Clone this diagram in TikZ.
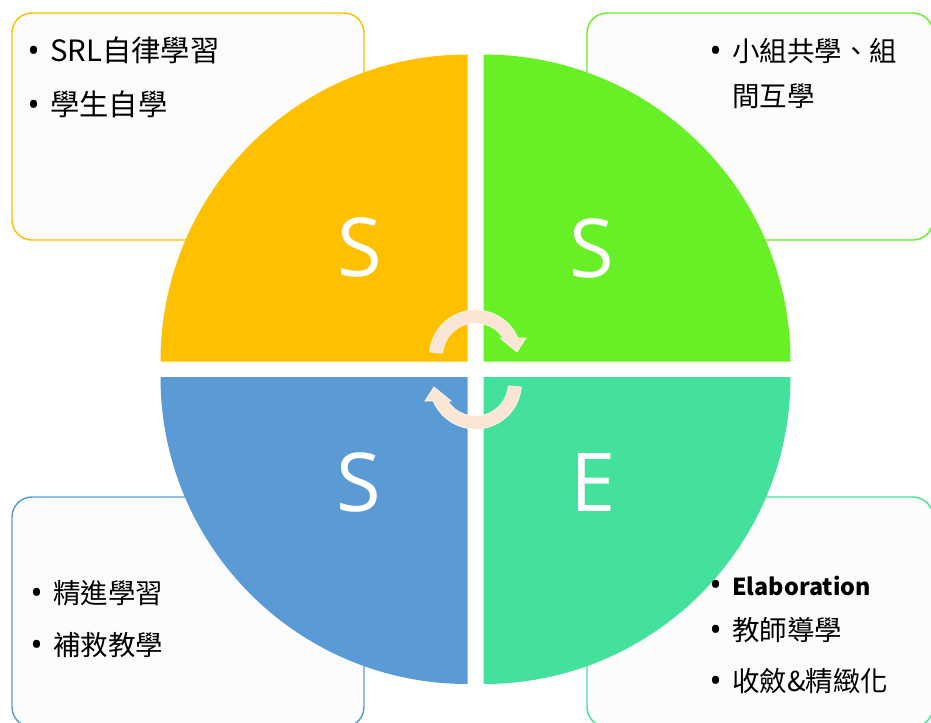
\documentclass[tikz,border=0pt]{standalone}
\usepackage{fontspec}
\setmainfont{Open Sans}
\newfontfamily\cjk{Noto Sans CJK TC}
\newcommand{\itembullet}{\makebox[17.25pt][l]{\raisebox{-1pt}{\fontspec{Open Sans}\fontsize{25}{25}\selectfont •}}}

\tikzset{
  infobox/.style={rounded corners=15pt, line width=1.1pt, fill={rgb, 255:red, 252; green, 252; blue, 252 }},
  bigletter/.style={text=white, inner sep=0pt, font=\fontsize{61}{61}\selectfont},
  itemtext/.style={anchor=base west, inner sep=0pt, align=left, font=\cjk\fontsize{20.6}{33.75}\selectfont},
  itemlarge/.style={itemtext, font=\cjk\fontsize{22}{33.75}\selectfont},
  cyclearrow/.style={fill={rgb, 255:red, 251; green, 229; blue, 212 }, draw={rgb, 255:red, 255; green, 243; blue, 232 }, line width=0.6pt}
}

\begin{document}
\begin{tikzpicture}[x=0.75pt,y=0.75pt,yscale=-1,xscale=1]
\path[use as bounding box] (0,0) rectangle (931,722);
\clip (0,0) rectangle (931,722);

%Shape: Rounded Rect (top left)
\draw [infobox, draw={rgb, 255:red, 255; green, 192; blue, 0 }] (12,13) rectangle (364,240);
%Shape: Rounded Rect (top right)
\draw [infobox, draw={rgb, 255:red, 104; green, 240; blue, 38 }] (587,13) rectangle (933,240);
%Shape: Rounded Rect (bottom left)
\draw [infobox, draw={rgb, 255:red, 91; green, 155; blue, 213 }] (12,497) rectangle (364,727);
%Shape: Rounded Rect (bottom right)
\draw [infobox, draw={rgb, 255:red, 67; green, 225; blue, 155 }] (587,497) rectangle (933,727);

%Shape: Pie (top left)
\fill [color={rgb, 255:red, 255; green, 192; blue, 0 }] (467.5,361.5) -- (160.5,361.5) arc[start angle=180, end angle=270, radius=307] -- cycle;
%Shape: Pie (top right)
\fill [color={rgb, 255:red, 104; green, 240; blue, 38 }] (483.5,361.5) -- (483.5,54.5) arc[start angle=270, end angle=360, radius=307] -- cycle;
%Shape: Pie (bottom left)
\fill [color={rgb, 255:red, 91; green, 155; blue, 213 }] (467.5,377) -- (467.5,684) arc[start angle=90, end angle=180, radius=307] -- cycle;
%Shape: Pie (bottom right)
\fill [color={rgb, 255:red, 67; green, 225; blue, 155 }] (483.5,377) -- (790.5,377) arc[start angle=0, end angle=90, radius=307] -- cycle;

%Curve Arrow (top)
\draw [cyclearrow] (475.5,356) ++(185:46) arc[start angle=185, end angle=337, radius=46] -- (526,338) -- (517,352) -- (500,338) -- (503.2,338) arc[start angle=327, end angle=185, radius=33] -- cycle;
%Curve Arrow (bottom)
\begin{scope}[rotate around={180:(475.5,369.5)}]
\draw [cyclearrow] (475.5,356) ++(185:46) arc[start angle=185, end angle=337, radius=46] -- (526,338) -- (517,352) -- (500,338) -- (503.2,338) arc[start angle=327, end angle=185, radius=33] -- cycle;
\end{scope}

% Text Node
\draw (360,247) node [bigletter] (selfS) {S};
% Text Node
\draw (592,248) node [bigletter] (shareS) {S};
% Text Node
\draw (359,482) node [bigletter] (supportS) {S};
% Text Node
\draw (593,482) node [bigletter] (elabE) {E};

% Text Node
\draw (27,61) node [itemlarge] (srl) {\itembullet SRL自律學習};
% Text Node
\draw (27,115) node [itemlarge] (selfstudy) {\itembullet 學生自學};
% Text Node
\draw (709,106) node [itemtext] (groupstudy) {\itembullet 小組共學、組\\\hspace*{17.25pt}間互學};
% Text Node
\draw (30,603) node [itemtext] (advance) {\itembullet 精進學習};
% Text Node
\draw (30,655) node [itemtext] (remedial) {\itembullet 補救教學};
% Text Node
\draw (709,595) node [itemtext] (elaboration) {\itembullet {\fontsize{17.5}{20}\selectfont\textbf{Elaboration}}};
% Text Node
\draw (709,640) node [itemtext] (teacherled) {\itembullet 教師導學};
% Text Node
\draw (709,691) node [itemtext] (converge) {\itembullet 收斂\&精緻化};

\end{tikzpicture}
\end{document}
